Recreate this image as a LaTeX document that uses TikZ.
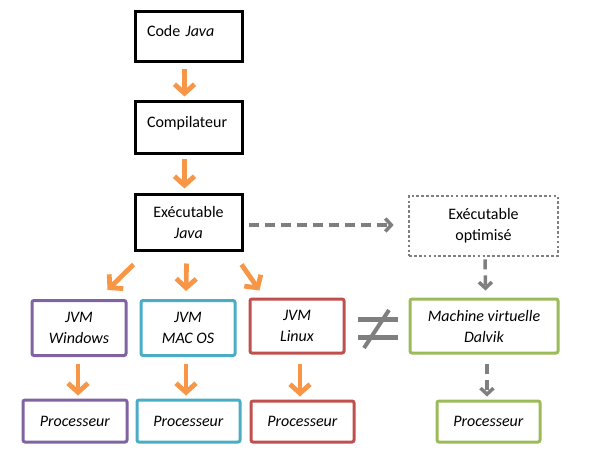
\documentclass[tikz,border=0pt]{standalone}
\usepackage{fontspec}
\setmainfont{Carlito}
\usetikzlibrary{arrows.meta,calc}
\definecolor{jvmorange}{HTML}{F79646}
\definecolor{winpurple}{HTML}{8064A2}
\definecolor{maccyan}{HTML}{4BACC6}
\definecolor{linred}{HTML}{C0504D}
\definecolor{dalgreen}{HTML}{9BBB59}
\definecolor{dalgray}{HTML}{7F7F7F}
\begin{document}
\begin{tikzpicture}
    [x=1pt,y=-1pt,
     every node/.style={font=\fontsize{16}{21}\selectfont},
     blk/.style={shape=rectangle,draw=black,line width=3pt,minimum width=107pt,align=center},
     os/.style={shape=rectangle,draw=#1,line width=3pt,rounded corners=2pt,align=center},
     pre/.style={-{Straight Barb[length=9pt,width=20pt]},draw=jvmorange,line width=4.8pt},
     alt/.style={-{Straight Barb[length=6pt,width=13pt]},draw=dalgray,line width=3.5pt,dash pattern=on 10pt off 6pt}]
    \useasboundingbox (0,0) rectangle (596,462);
    % chaine java
    \node [blk,align=left,text width=83pt,inner xsep=12pt,minimum height=50pt,text depth=12pt] (code) at (188.5,37) {Code \textit{Java}};
    \node [blk,align=left,text width=83pt,inner xsep=12pt,minimum height=52pt,text depth=12pt] (comp) at (188.5,128) {Compilateur};
    \node [blk,minimum height=55pt] (exe) at (188.5,222.5) {Exécutable\\\textit{Java}};
    \node [shape=rectangle,draw=dalgray,line width=2.7pt,dash pattern=on 2.7pt off 2.2pt,minimum width=149pt,minimum height=60pt,align=center] (opt) at (483.5,226) {Exécutable\\optimisé};
    % machines virtuelles
    \node [os=winpurple,minimum width=94pt,minimum height=55pt] (jvmw) at (79,328) {\textit{JVM}\\\textit{Windows}};
    \node [os=maccyan,minimum width=94pt,minimum height=55pt] (jvmm) at (188,328) {\textit{JVM}\\\textit{MAC OS}};
    \node [os=linred,minimum width=94pt,minimum height=54pt] (jvml) at (297,326) {\textit{JVM}\\\textit{Linux}};
    \node [os=dalgreen,minimum width=148pt,minimum height=54pt] (dalvik) at (484,326) {\textit{Machine virtuelle}\\\textit{Dalvik}};
    % processeurs
    \node [os=winpurple,minimum width=104pt,minimum height=42pt] (pw) at (75,421) {\textit{Processeur}};
    \node [os=maccyan,minimum width=103pt,minimum height=42pt] (pm) at (188.5,421) {\textit{Processeur}};
    \node [os=linred,minimum width=103pt,minimum height=41pt] (pl) at (302.5,421.5) {\textit{Processeur}};
    \node [os=dalgreen,minimum width=103pt,minimum height=41pt] (pd) at (488.5,421.5) {\textit{Processeur}};
    % fleches
    \draw [pre] ($(code.south)+(-4,6)$) -- ($(comp.north)+(-4,-4)$);
    \draw [pre] ($(comp.south)+(-4,4)$) -- ($(exe.north)+(-4,-5)$);
    \draw [pre] ($(exe.south west)+(0,13)$) -- ($(jvmw.north east)+(-20,-9)$);
    \draw [pre] ($(exe.south)+(-2,12)$) -- ($(jvmm.north)+(-2,-8)$);
    \draw [pre] ($(exe.south east)+(-2,13)$) -- ($(jvml.north west)+(11,-7)$);
    \draw [pre] ($(jvmw.south)+(-1,7)$) -- ($(jvmw.south |- pw.north)+(-1,-3)$);
    \draw [pre] ($(jvmm.south)+(-2,7)$) -- ($(jvmm.south |- pm.north)+(-2,-3)$);
    \draw [pre] ($(jvml.south)+(3,9)$) -- ($(jvml.south |- pl.north)+(3,-3)$);
    \draw [alt] ($(exe.east)+(5,2.5)$) -- ($(opt.west)+(-14,-1)$);
    \draw [alt] ($(opt.south)+(1.5,2)$) -- ($(dalvik.north)+(1.5,-7)$);
    \draw [alt] ($(dalvik.south)+(3,9)$) -- ($(dalvik.south |- pd.north)+(3,-3)$);
    % different
    \coordinate (neq) at ($(jvml.east)!0.5!(dalvik.west)+(1,2)$);
    \draw [dalgray,line width=5pt] ($(neq)+(-20,-9)$) -- ++(40,0);
    \draw [dalgray,line width=5pt] ($(neq)+(-20,9)$) -- ++(40,0);
    \draw [dalgray,line width=4pt] ($(neq)+(11,-18)$) -- ($(neq)+(-14,20)$);
\end{tikzpicture}
\end{document}
